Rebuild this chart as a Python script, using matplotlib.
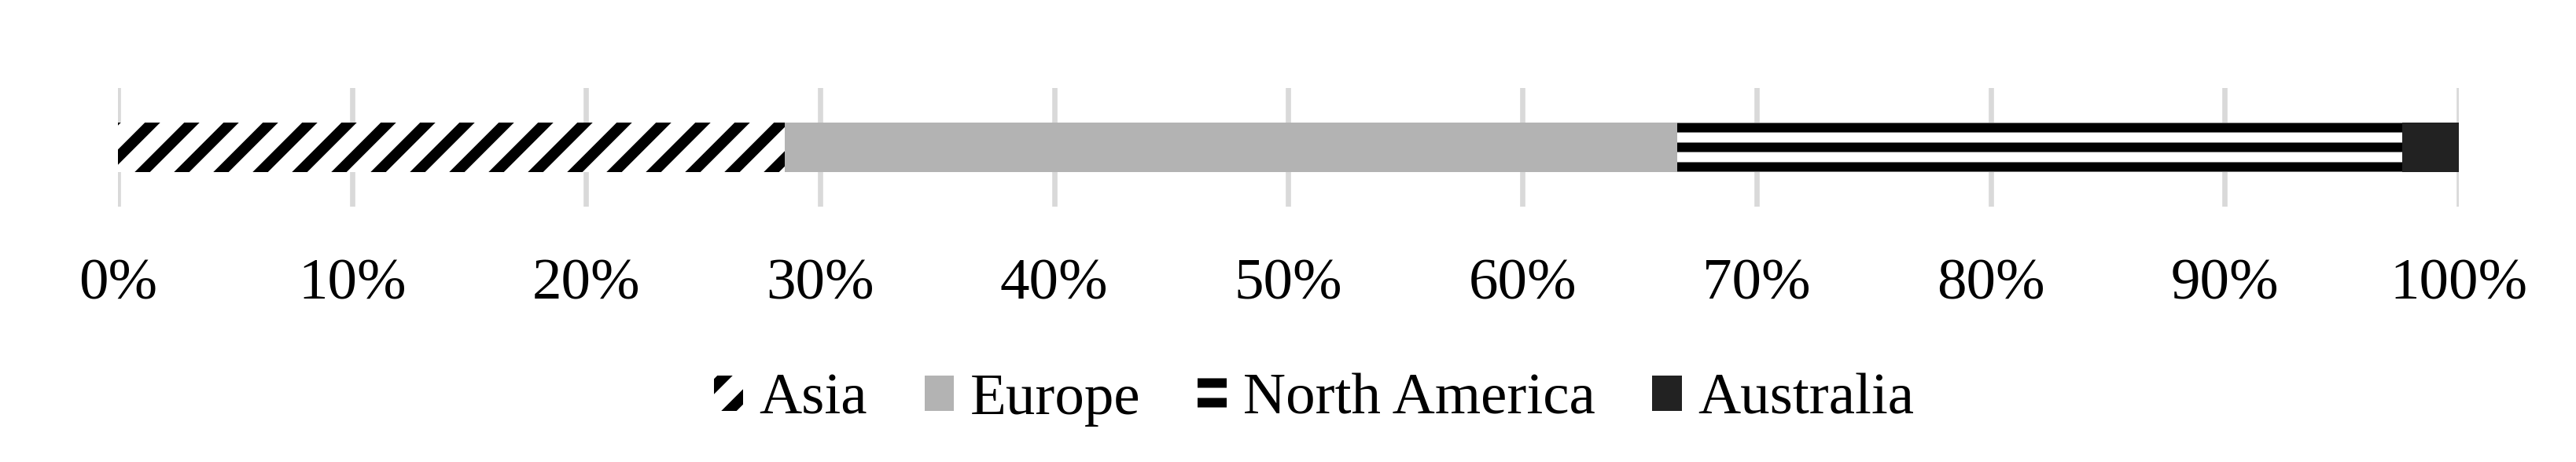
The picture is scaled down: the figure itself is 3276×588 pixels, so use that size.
import matplotlib
matplotlib.use('Agg')
import matplotlib.pyplot as plt
from matplotlib.ticker import PercentFormatter

regions = ['Asia', 'Europe', 'North America', 'Australia']
shares = [28.5, 38.1, 31.0, 2.4]
face_colors = ['white', '#b3b3b3', 'white', '#222222']
edge_colors = ['black', '#b3b3b3', 'black', '#222222']
hatches = ['//', None, '--', None]
hatch_widths = [3.3, 1.0, 2.9, 1.0]
xticks = [0, 10, 20, 30, 40, 50, 60, 70, 80, 90, 100]

plt.rcParams['font.family'] = ['Liberation Serif', 'DejaVu Serif']
plt.rcParams['font.size'] = 18

fig = plt.figure(figsize=(10.92, 1.96), dpi=300)
ax = fig.add_axes([0.0458, 0.552, 0.9087, 0.258])

left = 0
for name, val, fc, ec, h, hw in zip(regions, shares, face_colors, edge_colors,
                                    hatches, hatch_widths):
    with plt.rc_context({'hatch.linewidth': hw}):
        bars = ax.barh(0, val, left=left, height=0.41, color=fc, edgecolor=ec,
                       hatch=h, linewidth=0, label=name, zorder=2)
    for p in bars:
        if hasattr(p, 'set_hatch_linewidth'):
            p.set_hatch_linewidth(hw)
    left += val

ax.set_xlim(0, 100)
ax.set_ylim(-0.5, 0.5)
ax.set_xticks(xticks)
ax.xaxis.set_major_formatter(PercentFormatter(decimals=0))
ax.set_yticks([])
ax.tick_params(axis='x', length=0, pad=15.8, labelsize=18)
ax.xaxis.grid(True, color='#d9d9d9', linewidth=1.6)
ax.set_axisbelow(True)
for s in ax.spines.values():
    s.set_visible(False)

leg = fig.legend(loc='center', bbox_to_anchor=(0.51, 0.134), ncol=4, frameon=False,
                 handlelength=0.5, handleheight=0.56, handletextpad=0.27,
                 columnspacing=0.97, fontsize=18)
handles = getattr(leg, 'legend_handles', None) or leg.legendHandles
for p, hw in zip(handles, hatch_widths):
    if hasattr(p, 'set_hatch_linewidth'):
        p.set_hatch_linewidth(hw)

fig.savefig('out.png', dpi=300)
